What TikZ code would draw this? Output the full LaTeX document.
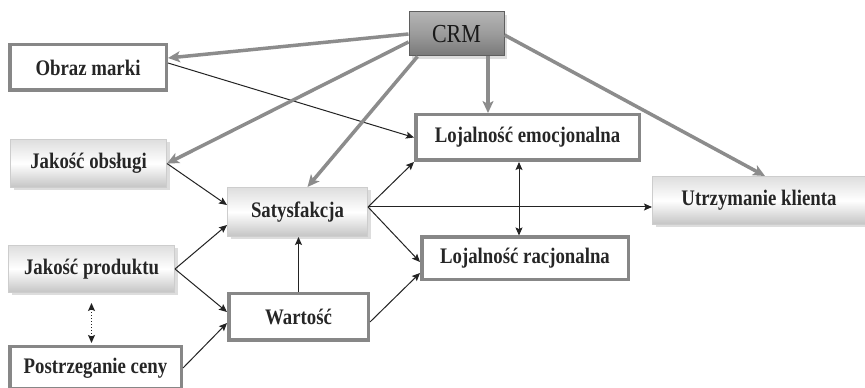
\documentclass[tikz,border=0pt]{standalone}
\usepackage{fontspec}
\setmainfont{Liberation Serif}
\usepackage{graphicx}
\usetikzlibrary{arrows.meta,shadows}

\definecolor{framegray}{RGB}{135,135,135}
\definecolor{linkgray}{RGB}{140,140,140}
\definecolor{crmtop}{RGB}{180,180,180}
\definecolor{crmmid}{RGB}{155,155,155}
\definecolor{crmbot}{RGB}{120,120,120}
\definecolor{crmedge}{RGB}{95,95,95}
\definecolor{softtop}{RGB}{222,222,222}
\definecolor{softbot}{RGB}{196,196,196}
\definecolor{softedge}{RGB}{205,205,205}
\definecolor{shadowgray}{RGB}{188,188,188}
\definecolor{inkline}{RGB}{35,35,35}

% slightly tall lettering used in every box
\newcommand{\tallbox}[1]{\scalebox{1}[1.18]{#1}}

\tikzset{
  base/.style={rectangle, inner sep=0pt, align=center,
    font=\fontsize{18.8}{20}\selectfont\bfseries, text=black!85},
  plainbox/.style={base, draw=framegray, line width=3.5pt, fill=white},
  softbox/.style={base, draw=softedge, line width=1pt,
    top color=softtop, bottom color=softbot, middle color=white,
    drop shadow={shadow xshift=3pt, shadow yshift=-3pt, fill=shadowgray}},
  crmbox/.style={base, draw=crmedge, line width=1pt,
    top color=crmtop, bottom color=crmbot, middle color=crmmid,
    font=\fontsize{22}{24}\selectfont, text=black!90,
    drop shadow={shadow xshift=3pt, shadow yshift=-3pt, fill=shadowgray}},
  stronglink/.style={draw=linkgray, line width=3.5pt,
    -{Stealth[length=12pt,width=11pt,inset=3pt]}},
  link/.style={draw=inkline, line width=1pt,
    -{Stealth[length=8pt,width=7pt,inset=1.5pt]}},
  twoway/.style={draw=inkline, line width=1pt,
    {Stealth[length=8pt,width=7pt,inset=1.5pt]}-{Stealth[length=8pt,width=7pt,inset=1.5pt]}},
}

\begin{document}
\begin{tikzpicture}[x=1pt, y=1pt]
  \useasboundingbox (0,0) rectangle (865,388);
  \clip (0,0) rectangle (865,388);
  \fill[white] (0,0) rectangle (865,388);

  % boxes
  \node[crmbox, minimum width=95pt, minimum height=44pt] (crm) at (456.5,354) {\tallbox{CRM}};
  \node[plainbox, minimum width=156.5pt, minimum height=45.5pt] (obraz) at (88,320.5) {\tallbox{Obraz marki}};
  \node[softbox, minimum width=156pt, minimum height=48pt] (jobs) at (88.5,224.5) {\tallbox{Jakość obsługi}};
  \node[softbox, minimum width=166pt, minimum height=47pt] (jprod) at (91.5,119) {\tallbox{Jakość produktu}};
  \node[plainbox, minimum width=171.5pt, minimum height=42.5pt] (cena) at (95.5,20) {\tallbox{Postrzeganie ceny}};
  \node[softbox, minimum width=140pt, minimum height=49pt] (sat) at (297.5,176) {\tallbox{Satysfakcja}};
  \node[plainbox, minimum width=139.5pt, minimum height=46.5pt] (wart) at (298.5,71) {\tallbox{Wartość}};
  \node[plainbox, minimum width=223.5pt, minimum height=45.5pt] (le) at (527.5,250.5) {\tallbox{Lojalność emocjonalna}};
  \node[plainbox, minimum width=206.5pt, minimum height=42.5pt] (lr) at (525,129.5) {\tallbox{Lojalność racjonalna}};
  \node[softbox, minimum width=213pt, minimum height=48pt] (utrz) at (759,187.5) {\tallbox{Utrzymanie klienta}};

  % thin influence arrows
  \draw[link] ([yshift=4.5pt]obraz.east) -- (le.west);
  \draw[link] (jobs.east) -- ([yshift=7pt]sat.west);
  \draw[link] (jprod.east) -- ([yshift=-13pt]sat.west);
  \draw[link] (jprod.east) -- ([yshift=5pt]wart.west);
  \draw[link] (cena.east) -- ([yshift=-6pt]wart.west);
  \draw[link] (wart.north) -- (wart.north |- sat.south);
  \draw[link] ([yshift=5pt]sat.east) -- (le.south west);
  \draw[link] ([yshift=5pt]sat.east) -- ([yshift=-3.5pt]lr.west);
  \draw[link] ([yshift=5pt]sat.east) -- ([yshift=5pt]sat.east -| utrz.west);
  \draw[link] ([yshift=-5pt]wart.east) -- ([yshift=-14.5pt]lr.west);
  \draw[twoway] ([xshift=-8.5pt]le.south) -- ([xshift=-8.5pt]le.south |- lr.north);
  \draw[twoway, dotted, shorten <=10pt, shorten >=2pt] (jprod.south) -- (jprod.south |- cena.north);

  % CRM arrows
  \draw[stronglink] (crm.west) -- ([yshift=9.5pt]obraz.east);
  \draw[stronglink] ([yshift=-8pt]crm.west) -- (jobs.east);
  \draw[stronglink] ([xshift=9pt]crm.south west) -- ([xshift=10pt]sat.north);
  \draw[stronglink] ([xshift=31.5pt]crm.south) -- ([xshift=-39.5pt]le.north);
  \draw[stronglink] ([yshift=-1pt]crm.east) -- ([xshift=6pt]utrz.north);
\end{tikzpicture}
\end{document}
